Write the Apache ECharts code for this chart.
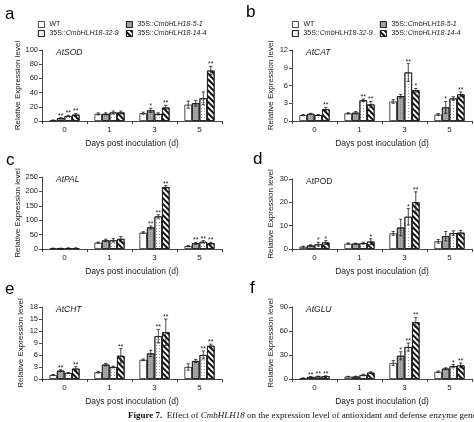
<!DOCTYPE html>
<html><head><meta charset="utf-8">
<script src="https://cdn.jsdelivr.net/npm/echarts@6/dist/echarts.min.js"></script>
<style>html,body{margin:0;padding:0;background:#fff}#c{width:474px;height:422px}</style>
</head><body><div id="c"></div>
<script>
// ---------------- DATA ----------------
const days = ['0', '1', '3', '5'];
const lines = ['WT', '35S::CmbHLH18-5-1', '35S::CmbHLH18-32-9', '35S::CmbHLH18-14-4'];
// rows: WT, 5-1, 32-9, 14-4 ; columns: days 0,1,3,5
const sodMean = [[1, 10, 11, 23], [4, 10, 15, 25], [7, 12, 10, 32], [9, 12, 19, 71]];
const sodErr  = [[0.5, 1.5, 1.5, 5], [0.8, 1.5, 3, 4], [1, 2, 1.5, 9], [1.5, 2, 3, 6]];
const sodSig  = [['', '', '', ''], ['**', '', '*', ''], ['**', '', '', ''], ['**', '', '**', '**']];

const catMean = [[1.0, 1.3, 3.3, 1.1], [1.2, 1.4, 4.2, 2.3], [1.0, 3.5, 8.2, 3.8], [2.0, 2.8, 5.2, 4.5]];
const catErr  = [[0.1, 0.1, 0.3, 0.15], [0.1, 0.2, 0.3, 1.0], [0.1, 0.2, 1.5, 0.3], [0.3, 0.5, 0.3, 0.4]];
const catSig  = [['', '', '', ''], ['', '', '', '*'], ['', '**', '**', ''], ['**', '**', '*', '**']];

const palMean = [[2, 22, 57, 10], [2, 30, 75, 20], [3, 30, 113, 25], [3, 35, 215, 20]];
const palErr  = [[1, 2, 3, 2], [1, 4, 5, 3], [1, 6, 6, 4], [1, 8, 5, 3]];
const palSig  = [['', '', '', ''], ['', '', '**', '**'], ['', '', '**', '**'], ['', '', '**', '**']];

const podMean = [[1.0, 2.3, 6.7, 3.3], [1.5, 2.3, 9.2, 5.5], [2.0, 2.5, 13.8, 6.8], [2.8, 3.2, 20.0, 7.0]];
const podErr  = [[0.2, 0.3, 0.8, 0.8], [0.3, 0.2, 3.5, 2.0], [0.8, 0.4, 3.5, 1.0], [0.8, 1.2, 4.5, 1.0]];
const podSig  = [['', '', '', ''], ['', '', '', ''], ['*', '', '*', ''], ['*', '*', '**', '']];

const chtMean = [[1.0, 1.7, 4.8, 3.0], [2.1, 3.6, 6.4, 4.5], [1.5, 3.0, 10.7, 6.0], [2.6, 5.8, 11.7, 8.3]];
const chtErr  = [[0.1, 0.2, 0.2, 0.8], [0.2, 0.3, 0.8, 0.4], [0.1, 0.2, 1.7, 1.0], [0.5, 1.8, 3.3, 0.4]];
const chtSig  = [['', '', '', ''], ['**', '', '', ''], ['', '', '**', '**'], ['**', '**', '**', '**']];

const gluMean = [[1, 3, 20, 9], [2.5, 3, 29, 13], [3, 5, 40, 16], [3.5, 8, 71, 17]];
const gluErr  = [[0.3, 0.3, 3, 1], [0.5, 0.5, 5, 1], [0.5, 1, 5, 2], [0.5, 1, 6, 3]];
const gluSig  = [['', '', '', ''], ['**', '', '*', ''], ['**', '', '**', '*'], ['**', '', '**', '**']];

const genes = ['AtSOD', 'AtCAT', 'AtPAL', 'AtPOD', 'AtCHT', 'AtGLU'];
const yMax = [100, 12, 250, 30, 18, 90];
const yStep = [20, 3, 50, 10, 3, 30];

// ---------------- LAYOUT ----------------
const means = [sodMean, catMean, palMean, podMean, chtMean, gluMean];
const errs = [sodErr, catErr, palErr, podErr, chtErr, gluErr];
const sigs = [sodSig, catSig, palSig, podSig, chtSig, gluSig];
const grids = [
  {left: 42, top: 50, height: 71},
  {left: 292, top: 50, height: 71},
  {left: 42, top: 177, height: 72},
  {left: 292, top: 179, height: 70},
  {left: 42, top: 307, height: 72},
  {left: 292, top: 307, height: 72}
];
const letters = [['a', 5, 6], ['b', 246, 4], ['c', 6, 152], ['d', 253, 151], ['e', 5, 281], ['f', 250, 280]];
const GW = 180;
const GAP = 0.33;
const INK = '#1a1a1a';
const FONT = 'Liberation Sans, Arial, sans-serif';
const SERIF = 'Liberation Serif, Times New Roman, serif';

const styles = [
  {color: '#ffffff'},
  {color: '#a8a8a8', decal: {symbol: 'circle', symbolSize: 0.9, dashArrayX: [1, 1], dashArrayY: [1, 1], color: '#6e6e6e'}},
  {color: '#ffffff', decal: {symbol: 'circle', symbolSize: 1, dashArrayX: [1, 1.5], dashArrayY: [1, 1.5], color: '#7a7a7a'}},
  {color: '#ffffff', decal: {symbol: 'rect', symbolSize: 1, dashArrayX: [1, 0], dashArrayY: [2, 1.6], rotation: Math.PI / 4, color: '#111'}}
];

const option = {
  animation: false,
  backgroundColor: '#fff',
  textStyle: {fontFamily: FONT},
  grid: grids.map(g => ({left: g.left, top: g.top, width: GW, height: g.height, containLabel: false})),
  xAxis: grids.map((g, i) => ({
    type: 'category', gridIndex: i, data: days,
    axisLine: {lineStyle: {color: INK, width: 0.8}},
    axisTick: {show: true, length: 3, lineStyle: {color: INK, width: 0.8}},
    axisLabel: {fontSize: 8, color: INK, margin: 5, fontFamily: FONT},
    name: 'Days post inoculation (d)', nameLocation: 'middle', nameGap: 18,
    nameTextStyle: {fontSize: 8.5, color: INK, fontFamily: FONT}
  })),
  yAxis: grids.map((g, i) => ({
    type: 'value', gridIndex: i, min: 0, max: yMax[i], interval: yStep[i],
    splitLine: {show: false},
    axisLine: {show: true, lineStyle: {color: INK, width: 0.8}},
    axisTick: {show: true, length: 3, lineStyle: {color: INK, width: 0.8}},
    axisLabel: {fontSize: 7.5, color: INK, margin: 4, fontFamily: FONT},
    name: 'Relative Expression level', nameLocation: 'middle', nameGap: 17,
    nameTextStyle: {fontSize: 8, color: INK, fontFamily: FONT}
  })),
  legend: [],
  series: [],
  graphic: []
};

// legends for panels a and b
const legPos = [[0, 0], [88, 0], [0, 9], [88, 9]];
[[38, 21], [292, 21]].forEach(([lx, ly]) => {
  [0, 1, 2, 3].forEach((si, j) => {
    option.legend.push({
      data: [lines[si]], left: lx + legPos[j][0], top: ly + legPos[j][1],
      padding: 0, itemWidth: 6, itemHeight: 6, itemGap: 0, icon: 'rect', selectedMode: false,
      itemStyle: Object.assign({borderColor: INK, borderWidth: 0.8}, styles[si]),
      formatter: n => n === 'WT' ? '{n|WT}' : '{n|35S::}{i|' + n.slice(5) + '}',
      textStyle: {color: INK, fontSize: 7, fontFamily: FONT,
        rich: {n: {fontSize: 7, color: INK, fontFamily: FONT}, i: {fontSize: 7, fontStyle: 'italic', color: INK, fontFamily: FONT}}}
    });
  });
});

for (let p = 0; p < 6; p++) {
  for (let si = 0; si < 4; si++) {
    option.series.push({
      type: 'bar', name: lines[si], xAxisIndex: p, yAxisIndex: p,
      data: means[p][si], barGap: '0%', barCategoryGap: (GAP * 100) + '%',
      itemStyle: Object.assign({borderColor: INK, borderWidth: 0.8}, styles[si]),
      emphasis: {disabled: true}
    });
  }
  for (let si = 0; si < 4; si++) {
    const pp = p, s = si;
    option.series.push({
      type: 'custom', name: lines[si] + ' err', xAxisIndex: p, yAxisIndex: p, z: 5, silent: true,
      data: days.map((d, k) => [k, means[p][si][k], errs[p][si][k]]),
      renderItem: (params, api) => {
        const k = api.value(0), m = api.value(1), e = api.value(2);
        const band = api.size([1, 0])[0];
        const bw = band * (1 - GAP) / 4;
        const x = api.coord([k, 0])[0] + (s - 1.5) * bw;
        const yt = api.coord([k, m + e])[1];
        const yb = api.coord([k, Math.max(0, m - e)])[1];
        const st = {stroke: INK, lineWidth: 0.8};
        const cap = 1.6;
        const ch = [
          {type: 'line', shape: {x1: x, y1: yt, x2: x, y2: yb}, style: st},
          {type: 'line', shape: {x1: x - cap, y1: yt, x2: x + cap, y2: yt}, style: st},
          {type: 'line', shape: {x1: x - cap, y1: yb, x2: x + cap, y2: yb}, style: st}
        ];
        const sg = sigs[pp][s][params.dataIndex];
        if (sg) ch.push({type: 'text', style: {text: sg, x: x, y: yt + 1.5, align: 'center', verticalAlign: 'bottom',
          fontSize: 7, fill: INK, fontFamily: FONT}});
        return {type: 'group', children: ch};
      }
    });
  }
  const g = grids[p];
  option.graphic.push({type: 'text', left: g.left + 14, top: g.top - 2,
    style: {text: genes[p], fontSize: 8.5, fontStyle: p === 3 ? 'normal' : 'italic', fill: INK, fontFamily: FONT}});
  option.graphic.push({type: 'text', left: letters[p][1], top: letters[p][2],
    style: {text: letters[p][0], fontSize: 17, fill: '#000', fontFamily: FONT}});
}

option.graphic.push({type: 'text', left: 128, top: 411,
  style: {text: '{b|Figure 7.}  Effect of {i|CmbHLH18} on the expression level of antioxidant and defense enzyme genes',
    fontSize: 9, fill: '#111', fontFamily: SERIF,
    rich: {b: {fontWeight: 'bold', fontSize: 9, fontFamily: SERIF, fill: '#111'},
           i: {fontStyle: 'italic', fontSize: 9, fontFamily: SERIF, fill: '#111'}}}});

const chart = echarts.init(document.getElementById('c'));
chart.setOption(option);
</script>
</body></html>
